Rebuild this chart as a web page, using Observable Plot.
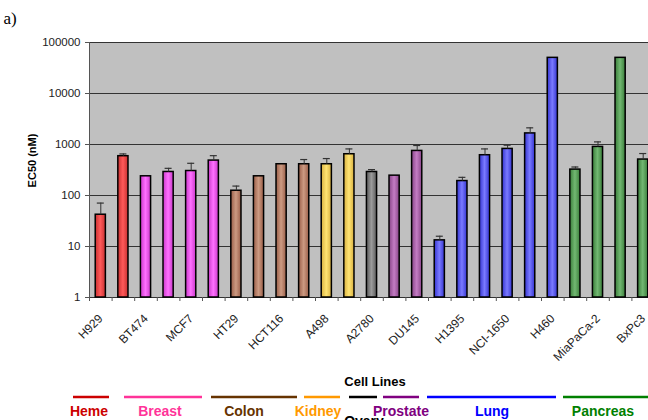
<!DOCTYPE html>
<html><head><meta charset="utf-8">
<script src="https://cdn.jsdelivr.net/npm/d3@7"></script>
<script src="https://cdn.jsdelivr.net/npm/@observablehq/plot@0.6"></script>
<style>
html,body{margin:0;padding:0;background:#fff;overflow:hidden;width:648px;height:420px;}
#chart svg{display:block;}
</style></head><body><div id="chart"></div>
<script>
// ---- data ----
const cellLines = ["H929","unlabeled-2","BT474","unlabeled-4","MCF7","unlabeled-6","HT29","unlabeled-8","HCT116","unlabeled-10","A498","unlabeled-12","A2780","unlabeled-14","DU145","unlabeled-16","H1395","unlabeled-18","NCI-1650","unlabeled-20","H460","unlabeled-22","MiaPaCa-2","unlabeled-24","BxPc3"];
const groups = ["Heme","Heme","Breast","Breast","Breast","Breast","Colon","Colon","Colon","Colon","Kidney","Kidney","Ovary","Prostate","Prostate","Lung","Lung","Lung","Lung","Lung","Lung","Pancreas","Pancreas","Pancreas","Pancreas"];
const ec50 = [42, 590, 238, 289, 302, 484, 124, 238, 410, 410, 410, 644, 289, 245, 748, 13.2, 192, 616, 819, 1650, 50000, 322, 897, 50000, 507];
const errUpper = [71, 653, null, 341, 428, 604, 153, null, null, 507, 530, 819, 322, null, 956, 15.9, 227, 819, 969, 2122, null, 362, 1125, null, 665];
const yTicks = [1, 10, 100, 1000, 10000, 100000];
const groupNames = ["Heme","Breast","Colon","Kidney","Ovary","Prostate","Lung","Pancreas"];

// ---- styles ----
const barColors = {
  Heme: ["#c83030", "#ff5a5a"],
  Breast: ["#c838c8", "#ff70ff"],
  Colon: ["#9a5e48", "#cc9a82"],
  Kidney: ["#d8b040", "#ffe472"],
  Ovary: ["#5a5a5a", "#9a9a9a"],
  Prostate: ["#884488", "#c47cc4"],
  Lung: ["#3434d0", "#7a7aff"],
  Pancreas: ["#3a7e3a", "#72b872"]
};
const groupTextColors = {Heme:"#cc0000", Breast:"#ff3399", Colon:"#663300", Kidney:"#ff9900", Ovary:"#000000", Prostate:"#800080", Lung:"#0000ff", Pancreas:"#008000"};
// legend layout (pixels): line start, line end, label centre
const legendLayout = {Heme:[73,109,89], Breast:[124,202,160], Colon:[211,297,244], Kidney:[304,340,318], Ovary:[349,377,364], Prostate:[383,419,401], Lung:[427,556,492], Pancreas:[563,660,603]};
const barHalf = 0.225, capHalf = 0.155;

// category slots on a numeric axis: slot i spans [i, i+1], bar centred in it
const data = cellLines.map((c, i) => ({cell: c, i, group: groups[i], value: ec50[i], err: errUpper[i]}));
const withErr = data.filter(d => d.err != null);
const labelTicks = data.filter(d => d.i % 2 === 0).map(d => d.i + 0.5);

const W = 648, H = 420;
const svg = Plot.plot({
  width: W, height: H,
  // the plot area runs a few pixels past the right edge of the picture, as in the reference
  marginTop: 42, marginBottom: 123, marginLeft: 89, marginRight: -6,
  style: {fontFamily: "'Liberation Sans', Arial, sans-serif", fontSize: "11px", color: "#222", background: "transparent"},
  x: {type: "linear", domain: [0, cellLines.length]},
  y: {type: "log", domain: [1, 100000]},
  marks: [
    Plot.frame({fill: "#c0c0c0", stroke: null}),
    Plot.ruleY(yTicks, {stroke: "#333", strokeWidth: 1}),
    ...groupNames.map(g => Plot.rectY(data.filter(d => d.group === g), {
      x1: d => d.i + 0.5 - barHalf, x2: d => d.i + 0.5 + barHalf, y1: 1, y2: "value",
      fill: `url(#grad-${g.toLowerCase()})`, stroke: "#000", strokeWidth: 1.5
    })),
    Plot.ruleX(withErr, {x: d => d.i + 0.5, y1: "value", y2: "err", stroke: "#333", strokeWidth: 1}),
    Plot.ruleY(withErr, {x1: d => d.i + 0.5 - capHalf, x2: d => d.i + 0.5 + capHalf, y: "err", stroke: "#333", strokeWidth: 1.2}),
    Plot.ruleX([0], {stroke: "#555"}),
    Plot.axisY({ticks: yTicks, tickFormat: d => String(d), tickSize: 4, tickPadding: 5, label: null, stroke: "#555", fontSize: 11.5}),
    Plot.axisX({ticks: d3.range(cellLines.length + 1), tickSize: 4, tickFormat: () => "", label: null, stroke: "#555"}),
    Plot.axisX({ticks: labelTicks, tickSize: 0, tickRotate: -45, tickPadding: 19, label: null, fontSize: 12,
      tickFormat: v => cellLines[Math.floor(v)]})
  ]
});

const s = d3.select(svg);
const defs = s.insert("defs", ":first-child");
for (const g of groupNames) {
  const [edge, mid] = barColors[g];
  const lg = defs.append("linearGradient").attr("id", `grad-${g.toLowerCase()}`)
    .attr("x1", "0").attr("x2", "1").attr("y1", "0").attr("y2", "0");
  lg.append("stop").attr("offset", "0").attr("stop-color", edge);
  lg.append("stop").attr("offset", "0.5").attr("stop-color", mid);
  lg.append("stop").attr("offset", "1").attr("stop-color", edge);
}

const ys = svg.scale("y");
const y0 = ys.apply(1), yTop = ys.apply(100000);

// panel letter
s.append("text").attr("x", 10).attr("y", 24).text("a)")
  .attr("font-family", "'Liberation Serif', 'Times New Roman', serif").attr("font-size", 17).attr("fill", "#000");
// y label
s.append("text").attr("transform", `translate(36,${(y0 + yTop) / 2 - 9}) rotate(-90)`)
  .attr("text-anchor", "middle").attr("font-weight", "bold").attr("font-size", 11).attr("fill", "#000")
  .text("EC50 (nM)");
// x label
s.append("text").attr("x", 375).attr("y", 386).attr("text-anchor", "middle")
  .attr("font-weight", "bold").attr("font-size", 13).attr("fill", "#000").text("Cell Lines");
// group legend
for (const g of groupNames) {
  const [a, b] = legendLayout[g];
  s.append("line").attr("x1", a).attr("x2", b).attr("y1", 397).attr("y2", 397)
    .attr("stroke", groupTextColors[g]).attr("stroke-width", 2.5);
}
for (const g of groupNames) {
  const c = legendLayout[g][2];
  const t = s.append("text").attr("x", c).attr("y", g === "Ovary" ? 426 : 416).attr("text-anchor", "middle")
    .attr("font-weight", "bold").attr("font-size", 14).attr("fill", groupTextColors[g]).text(g);
  if (g === "Ovary") t.lower(); // behind the other labels, partly below the picture edge as in the reference
}
document.getElementById("chart").appendChild(svg);
</script>
</body></html>
